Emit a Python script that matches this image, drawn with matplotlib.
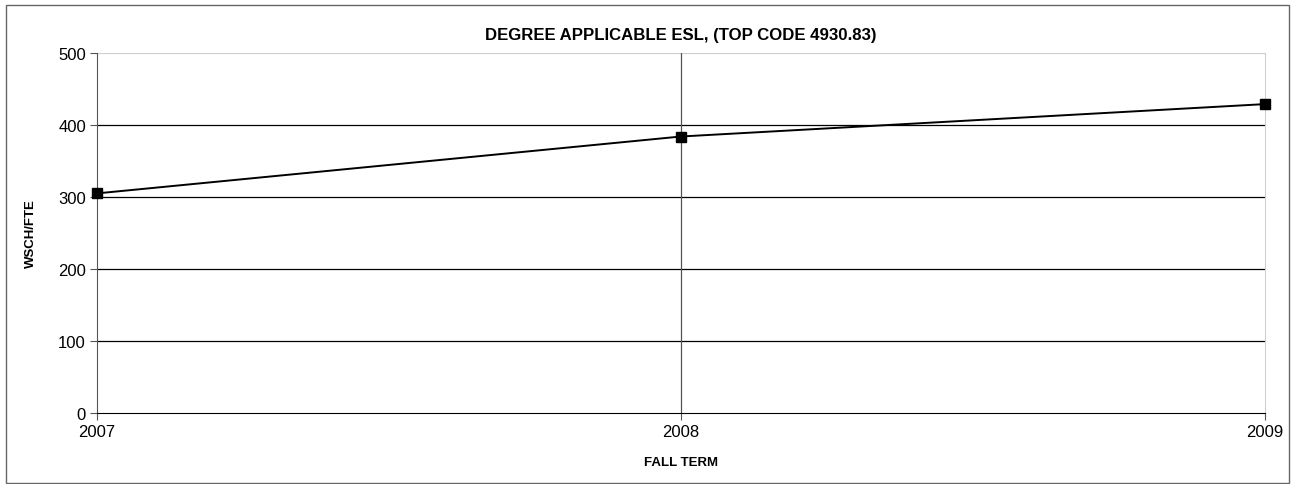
import matplotlib
matplotlib.use("Agg")
import matplotlib.pyplot as plt
from matplotlib.patches import Rectangle

# ---- data -------------------------------------------------------------------
years = [2007, 2008, 2009]
wsch_fte = [305, 384, 429]
y_ticks = [0, 100, 200, 300, 400, 500]

plt.rcParams.update({
    "font.family": "sans-serif",
    "font.sans-serif": ["Liberation Sans", "DejaVu Sans"],
})

fig = plt.figure(figsize=(12.95, 4.85), dpi=100)
fig.patch.set_facecolor("white")
ax = fig.add_axes([0.0749, 0.1464, 0.9019, 0.7423])

# outer chart frame
fig.patches.append(Rectangle((6 / 1295, 1.5 / 485), 1283 / 1295, 477.5 / 485,
                             transform=fig.transFigure, fill=False,
                             edgecolor="#666666", lw=1.0))

ax.plot(years, wsch_fte, color="black", lw=1.4, marker="s", markersize=6.5,
        markerfacecolor="black", markeredgecolor="black", zorder=5,
        clip_on=False)

ax.set_xlim(years[0], years[-1])
ax.set_ylim(y_ticks[0], y_ticks[-1])
ax.set_xticks(years)
ax.set_yticks(y_ticks)
ax.tick_params(axis="both", labelsize=12, color="#555555", length=5,
               direction="out", pad=3)

# grid: horizontal dark lines, vertical line at middle year
for v in y_ticks[1:-1]:
    ax.axhline(v, color="black", lw=0.9, zorder=1)
ax.axhline(y_ticks[-1], color="#d0d0d0", lw=0.9, zorder=1)
ax.axvline(years[1], color="#555555", lw=0.9, zorder=1)

ax.spines["left"].set_color("#555555")
ax.spines["bottom"].set_color("black")
ax.spines["top"].set_visible(False)
ax.spines["right"].set_color("#d0d0d0")

ax.set_title("DEGREE APPLICABLE ESL, (TOP CODE 4930.83)", fontsize=12.1,
             fontweight="bold", pad=10)
ax.set_xlabel("FALL TERM", fontsize=9.5, fontweight="bold", labelpad=12)
ax.set_ylabel("WSCH/FTE", fontsize=9.5, fontweight="bold", labelpad=15)

fig.savefig("out.png", dpi=100, facecolor="white")
